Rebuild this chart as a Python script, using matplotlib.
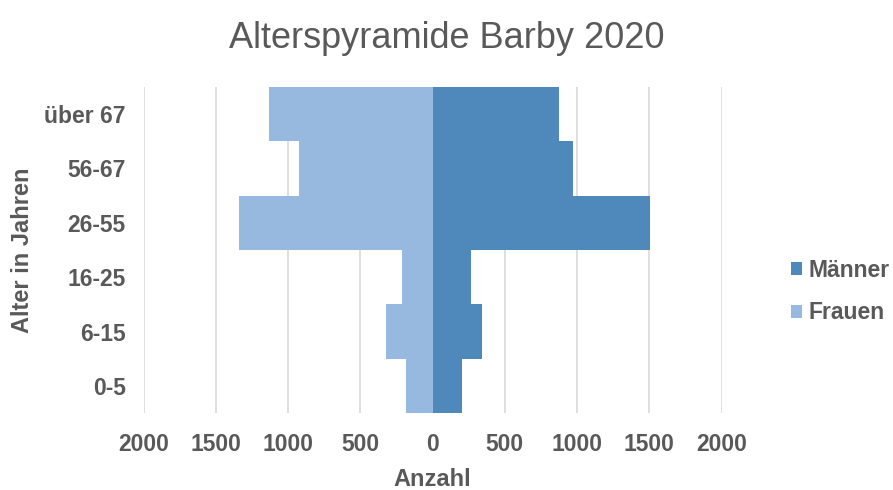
import numpy as np
import matplotlib
matplotlib.use("Agg")
import matplotlib.pyplot as plt
from matplotlib.ticker import FuncFormatter

plt.rcParams['font.family'] = ['Liberation Sans', 'DejaVu Sans']

# Daten
altersgruppen = ["0-5", "6-15", "16-25", "26-55", "56-67", "über 67"]
maenner = [204, 345, 262, 1503, 972, 873]
frauen = [183, 324, 210, 1340, 924, 1132]

grau = "#595959"
farbe_m = "#4F89BC"
farbe_f = "#98B9DF"

fig = plt.figure(figsize=(8.93, 4.9), dpi=100)
ax = fig.add_axes([0.161, 0.1565, 0.647, 0.6665])

y = np.arange(len(altersgruppen))
ax.barh(y, maenner, height=1.0, color=farbe_m, label="Männer", zorder=3)
ax.barh(y, [-f for f in frauen], height=1.0, color=farbe_f, label="Frauen", zorder=2)

ax.set_xlim(-2000, 2000)
ax.set_ylim(-0.5, len(altersgruppen) - 0.5)
ax.set_xticks(np.arange(-2000, 2001, 500))
ax.xaxis.set_major_formatter(FuncFormatter(lambda v, p: f"{abs(int(v))}"))
ax.set_yticks(y)
ax.set_yticklabels(altersgruppen)
for lbl in ax.get_xticklabels() + ax.get_yticklabels():
    lbl.set_fontweight("bold")

ax.grid(axis="x", color="#D9D9D9", linewidth=1.2, zorder=0)
for s in ax.spines.values():
    s.set_visible(False)
ax.tick_params(length=0, colors=grau, labelsize=16.5)
ax.tick_params(axis="x", pad=14)
ax.tick_params(axis="y", pad=13)

# Titel mittig über der ganzen Grafik
fig.suptitle("Alterspyramide Barby 2020", fontsize=26, color=grau, x=0.5, y=0.957, va="top")
ax.set_xlabel("Anzahl", fontsize=17, color=grau, fontweight="bold", labelpad=9)
ax.set_ylabel("Alter in Jahren", fontsize=17, color=grau, fontweight="bold", labelpad=7)

leg = fig.legend(loc="center left", bbox_to_anchor=(791 / 893, 0.405), frameon=False,
                 borderpad=0, borderaxespad=0,
                 handlelength=0.5, handleheight=0.5, handletextpad=0.28,
                 labelspacing=0.85, prop={"size": 16.5, "weight": "bold"})
for t in leg.get_texts():
    t.set_color(grau)

fig.savefig("out.png", dpi=100)
